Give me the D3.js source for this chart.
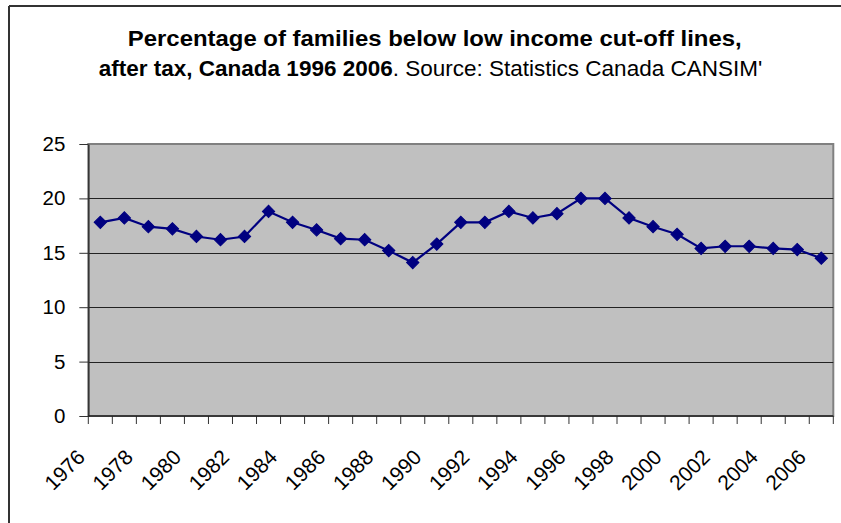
<!DOCTYPE html>
<html>
<head>
<meta charset="utf-8">
<script src="https://cdn.jsdelivr.net/npm/d3@7"></script>
<style>
  html, body { margin: 0; padding: 0; background: #fff; }
  svg { display: block; }
  text { font-family: "Liberation Sans", Arial, sans-serif; fill: #000; }
</style>
</head>
<body>
<svg id="chart" width="841" height="523"></svg>
<script>
const years = ["1976","1977","1978","1979","1980","1981","1982","1983","1984","1985",
  "1986","1987","1988","1989","1990","1991","1992","1993","1994","1995",
  "1996","1997","1998","1999","2000","2001","2002","2003","2004","2005","2006"];
const values = [17.8,18.2,17.4,17.2,16.5,16.2,16.5,18.8,17.8,17.1,
  16.3,16.2,15.2,14.1,15.8,17.8,17.8,18.8,18.2,18.6,
  20.0,20.0,18.2,17.4,16.7,15.4,15.6,15.6,15.4,15.3,14.5];
const yTicks = [0,5,10,15,20,25];
const xLabels = ["1976","1978","1980","1982","1984","1986","1988","1990",
  "1992","1994","1996","1998","2000","2002","2004","2006"];
const titleLine1 = "Percentage of families below low income cut-off lines,";
const titleLine2Bold = "after tax, Canada 1996 2006";
const titleLine2Normal = ". Source: Statistics Canada CANSIM'";

const svg = d3.select("#chart");
const plot = {left: 88.3, right: 833.3, top: 144, bottom: 416};

// chart area border (only top and left visible)
svg.append("line").attr("x1", 9).attr("x2", 841).attr("y1", 6).attr("y2", 6)
  .attr("stroke", "#333").attr("stroke-width", 2);
svg.append("line").attr("x1", 9).attr("x2", 9).attr("y1", 6).attr("y2", 523)
  .attr("stroke", "#333").attr("stroke-width", 2);

const x = d3.scaleBand().domain(years).range([plot.left, plot.right]).padding(0);
const y = d3.scaleLinear().domain([0, 25]).range([plot.bottom, plot.top]);

// plot area background
svg.append("rect")
  .attr("x", plot.left).attr("y", plot.top)
  .attr("width", plot.right - plot.left).attr("height", plot.bottom - plot.top)
  .attr("fill", "#C0C0C0").attr("stroke", "#808080").attr("stroke-width", 2);

// gridlines
svg.append("g").selectAll("line").data(yTicks.filter(d => d > 0 && d < 25)).join("line")
  .attr("x1", plot.left).attr("x2", plot.right)
  .attr("y1", d => Math.round(y(d)) + 0.5).attr("y2", d => Math.round(y(d)) + 0.5)
  .attr("stroke", "#222").attr("stroke-width", 1);

// y axis
const yAxis = d3.axisLeft(y).tickValues(yTicks).tickSize(9).tickPadding(14).tickSizeOuter(0);
const gy = svg.append("g").attr("transform", `translate(${plot.left},0)`).call(yAxis);
gy.select(".domain").attr("stroke", "#333").attr("stroke-width", 1.5);
gy.selectAll(".tick line").attr("stroke", "#333");
gy.selectAll(".tick text").attr("font-size", 20.5)
  .attr("font-family", "Liberation Sans, Arial, sans-serif").attr("fill", "#000");

// x axis ticks at category boundaries
const boundaries = years.map(d => x(d)).concat([plot.right]);
svg.append("g").selectAll("line").data(boundaries).join("line")
  .attr("x1", d => d).attr("x2", d => d)
  .attr("y1", plot.bottom).attr("y2", plot.bottom + 8)
  .attr("stroke", "#333").attr("stroke-width", 1);
svg.append("line").attr("x1", plot.left).attr("x2", plot.right)
  .attr("y1", plot.bottom).attr("y2", plot.bottom)
  .attr("stroke", "#222").attr("stroke-width", 1.5);

// x labels
svg.append("g").selectAll("text").data(xLabels).join("text")
  .attr("transform", d => `translate(${x(d) + x.bandwidth() / 2 - 14},${plot.bottom + 42.5}) rotate(-45)`)
  .attr("text-anchor", "end")
  .attr("font-size", 21)
  .text(d => d);

// line
const line = d3.line().x((d, i) => x(years[i]) + x.bandwidth() / 2).y(d => y(d));
svg.append("path").datum(values).attr("d", line)
  .attr("fill", "none").attr("stroke", "#000080").attr("stroke-width", 2.2);

// markers
const sym = d3.symbol().type(d3.symbolSquare).size(76);
svg.append("g").selectAll("path").data(values).join("path")
  .attr("transform", (d, i) => `translate(${x(years[i]) + x.bandwidth() / 2},${y(d)}) rotate(45)`)
  .attr("d", sym)
  .attr("fill", "#000080").attr("stroke", "#000080").attr("stroke-width", 1);

// title
function fitText(sel, cx, baseline, targetWidth) {
  const w = sel.node().getComputedTextLength();
  sel.attr("text-anchor", "middle")
    .attr("transform", `translate(${cx},${baseline}) scale(${targetWidth / w},1)`);
}
const t1 = svg.append("text").attr("font-size", 21.5).attr("font-weight", "bold").text(titleLine1);
fitText(t1, 434.7, 46, 614);
const t2 = svg.append("text").attr("font-size", 21.5);
t2.append("tspan").attr("font-weight", "bold").text(titleLine2Bold);
t2.append("tspan").attr("font-weight", "normal").text(titleLine2Normal);
fitText(t2, 430.5, 76, 664);
</script>
</body>
</html>
